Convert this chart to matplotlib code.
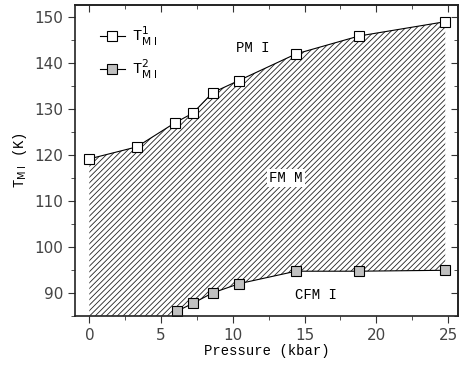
import numpy as np
import matplotlib.pyplot as plt
from matplotlib.ticker import MultipleLocator

# Данные: T_MI^1 и T_MI^2 в зависимости от давления
p1 = [0, 3.3, 6.0, 7.2, 8.6, 10.4, 14.4, 18.8, 24.8]
t1 = [119.1, 121.7, 127.0, 129.0, 133.5, 136.1, 141.9, 145.8, 148.9]
p2 = [6.1, 7.2, 8.6, 10.45, 14.4, 18.8, 24.75]
t2 = [86.0, 87.7, 90.0, 92.0, 94.7, 94.7, 94.9]

fig = plt.figure(figsize=(4.6, 3.66), dpi=100)
ax = fig.add_axes([0.163, 0.137, 0.833, 0.849])
ymin, ymax = 85, 152.5
ax.set_xlim(-1, 25.7)
ax.set_ylim(ymin, ymax)

# заштрихованная область между кривыми
xs = np.linspace(p1[0], p1[-1], 300)
upper = np.interp(xs, p1, t1)
lower = np.interp(xs, [p1[0]] + [5.6] + p2, [ymin, ymin] + t2)
plt.rcParams['hatch.linewidth'] = 0.6
ax.fill_between(xs, lower, upper, facecolor='white', edgecolor='#222222',
                hatch='//////', linewidth=0)

ax.plot(p1, t1, '-', color='black', lw=0.8, marker='s', ms=7.5,
        mfc='white', mec='black', mew=0.8, label=r'T$^{1}_{\rm M\;I}$')
ax.plot(p2, t2, '-', color='black', lw=0.8, marker='s', ms=7.5,
        mfc='#c0c0c0', mec='black', mew=0.8, label=r'T$^{2}_{\rm M\;I}$')

mono = 'Liberation Mono'
ax.text(11.4, 143.2, 'PM I', family=mono, fontsize=10, ha='center', va='center')
ax.text(13.7, 115, 'FM M', family=mono, fontsize=10, ha='center', va='center',
        bbox=dict(facecolor='white', edgecolor='none', pad=1.5))
ax.text(15.8, 89.5, 'CFM I', family=mono, fontsize=10, ha='center', va='center')

ax.set_xlabel('Pressure (kbar)', family=mono, fontsize=10, labelpad=1)
ax.set_ylabel(r'T$_{\rm M\;I}$ (K)', family=mono, fontsize=10, labelpad=4)

ax.xaxis.set_major_locator(MultipleLocator(5))
ax.xaxis.set_minor_locator(MultipleLocator(2.5))
ax.yaxis.set_major_locator(MultipleLocator(10))
ax.yaxis.set_minor_locator(MultipleLocator(5))
ax.tick_params(which='both', direction='out', labelsize=11, colors='#333333',
               labelcolor='#444444')
ax.tick_params(which='major', length=5)
ax.tick_params(which='minor', length=3)

# верхняя и правая оси: засечки внутрь
top = ax.secondary_xaxis('top')
top.xaxis.set_major_locator(MultipleLocator(5))
top.xaxis.set_minor_locator(MultipleLocator(2.5))
top.tick_params(which='both', direction='in', labeltop=False, colors='#333333')
top.tick_params(which='major', length=5)
top.tick_params(which='minor', length=3)
right = ax.secondary_yaxis('right')
right.yaxis.set_major_locator(MultipleLocator(10))
right.yaxis.set_minor_locator(MultipleLocator(5))
right.tick_params(which='both', direction='in', labelright=False, colors='#333333')
right.tick_params(which='major', length=5)
right.tick_params(which='minor', length=3)
for s in list(ax.spines.values()) + [top.spines['top'], right.spines['right']]:
    s.set_linewidth(1.2)
    s.set_color('#222222')

ax.legend(loc='upper left', frameon=False, handlelength=1.6, handletextpad=0.5,
          bbox_to_anchor=(0.03, 0.98), labelspacing=0.6,
          prop={'family': mono, 'size': 11})

fig.savefig('out.png', dpi=100)
